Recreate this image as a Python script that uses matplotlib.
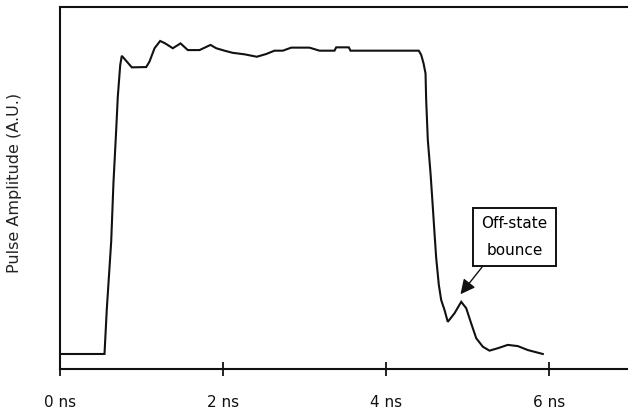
import matplotlib
matplotlib.use("Agg")
import matplotlib.pyplot as plt

# Pulse trace (time in ns, amplitude in arbitrary units)
time_ns = [0.000, 0.546, 0.574, 0.628, 0.656, 0.690, 0.709, 0.739, 0.758, 0.804,
           0.881, 1.058, 1.098, 1.160, 1.229, 1.291, 1.384, 1.479, 1.568, 1.712,
           1.847, 1.917, 2.018, 2.117, 2.264, 2.415, 2.530, 2.632, 2.734, 2.837,
           3.061, 3.184, 3.368, 3.389, 3.544, 3.564, 4.402, 4.432, 4.460, 4.485,
           4.493, 4.513, 4.546, 4.574, 4.595, 4.616, 4.648, 4.677, 4.718, 4.758,
           4.840, 4.923, 4.984, 5.045, 5.107, 5.188, 5.270, 5.372, 5.494, 5.617,
           5.740, 5.924]
amplitude = [0.000, 0.000, 0.147, 0.370, 0.565, 0.741, 0.848, 0.953, 0.983, 0.969,
             0.945, 0.946, 0.964, 1.008, 1.032, 1.024, 1.008, 1.024, 1.002, 1.002,
             1.019, 1.008, 1.000, 0.993, 0.988, 0.980, 0.989, 1.000, 1.000, 1.010,
             1.010, 1.000, 1.000, 1.011, 1.011, 1.000, 1.000, 0.986, 0.959, 0.925,
             0.837, 0.706, 0.597, 0.486, 0.399, 0.316, 0.228, 0.178, 0.145, 0.106,
             0.134, 0.172, 0.151, 0.101, 0.052, 0.024, 0.011, 0.019, 0.030, 0.026,
             0.013, 0.000]

tick_values = [0, 2, 4, 6]
tick_labels = ["0 ns", "2 ns", "4 ns", "6 ns"]

note_text = "Off-state\nbounce"
note_xy = (4.914, 0.197)      # arrow tip (ns, A.U.)
note_text_xy = (5.577, 0.386)  # label centre

plt.rcParams["font.family"] = ["DejaVu Sans"]

fig = plt.figure(figsize=(6.28, 4.15), dpi=100)
ax = fig.add_axes([60 / 628, 46 / 415, 570.5 / 628, 362 / 415])

ax.plot(time_ns, amplitude, color="#111111", lw=1.5, solid_joinstyle="miter")

ax.set_xlim(0, 7)
ax.set_ylim(-0.0495, 1.144)

for side in ("left", "top", "bottom"):
    ax.spines[side].set_linewidth(1.5)
    ax.spines[side].set_color("#111111")
ax.spines["right"].set_visible(False)

ax.set_xticks(tick_values)
ax.set_xticklabels(tick_labels)
ax.tick_params(axis="x", direction="inout", length=9.5, width=1.3,
               pad=14, labelsize=11, colors="#111111")
ax.set_yticks([])

ax.set_ylabel("Pulse Amplitude (A.U.)", fontsize=11.5, color="#222222",
              labelpad=27)
ax.yaxis.set_label_coords(-0.0666, 0.514)

ax.annotate(note_text, xy=note_xy, xytext=note_text_xy,
            ha="center", va="center", fontsize=11, linespacing=2.0,
            bbox=dict(boxstyle="square,pad=0.55", fc="white", ec="#111111", lw=1.4),
            arrowprops=dict(arrowstyle="-|>,head_length=0.8,head_width=0.4",
                            color="#111111", lw=1.0, shrinkA=0, shrinkB=0,
                            relpos=(0.12, 0.0)))

fig.savefig("out.png", dpi=100)
